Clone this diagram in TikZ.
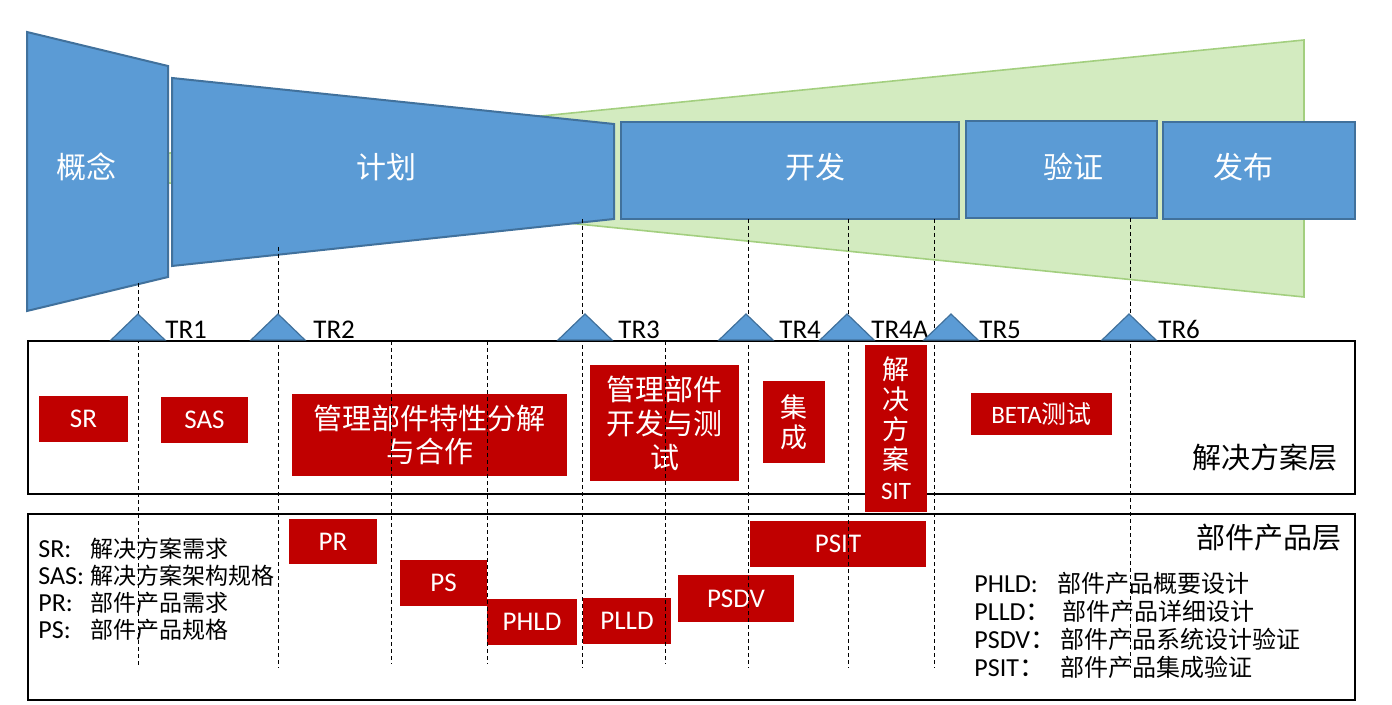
\documentclass[tikz,border=0pt]{standalone}
\usepackage{fontspec}
\setmainfont{Carlito}
\newfontfamily\zh{Noto Sans CJK SC}
\usetikzlibrary{positioning}
\definecolor{phasefill}{HTML}{5B9BD5}
\definecolor{phaseline}{HTML}{41719C}
\definecolor{conefill}{HTML}{D3EBC0}
\definecolor{coneline}{HTML}{A3CF7F}
\definecolor{taskred}{HTML}{C00000}
\tikzset{
  phase/.style={fill=phasefill, draw=phaseline, line width=1pt},
  phaselabel/.style={text=white, font=\zh\fontsize{15}{18}\selectfont},
  cone/.style={fill=conefill, draw=coneline, line width=0.8pt},
  layer/.style={draw=black, line width=1.1pt},
  layerlabel/.style={anchor=east, inner sep=0pt, font=\zh\fontsize{14.5}{17}\selectfont},
  task/.style={fill=taskred, text=white, inner sep=0pt, align=center},
  tasklat/.style={task, font=\fontsize{13.5}{16}\selectfont},
  taskzh/.style={task, font=\zh\fontsize{14.5}{16.5}\selectfont},
  guide/.style={dash pattern=on 2pt off 1.5pt, line width=0.5pt},
  trmark/.style={fill=phasefill, draw=phaseline, line width=0.6pt},
  trlabel/.style={anchor=base west, inner sep=0pt, font=\fontsize{13.5}{16}\selectfont},
  keylat/.style={anchor=base west, inner sep=0pt, font=\fontsize{13}{15}\selectfont},
  keyzh/.style={anchor=base west, inner sep=0pt, font=\zh\fontsize{11.5}{14}\selectfont},
  keyzhr/.style={keyzh, font=\zh\fontsize{12}{14}\selectfont},
}
% box from corner to corner, in pixels of the sheet
\newcommand{\phasebox}[5]{%
  \node[phase, inner sep=0pt, minimum width=(#4-#2)*0.5pt, minimum height=(#5-#3)*0.5pt]
    (#1) at ({(#2+#4)/2},{(#3+#5)/2}) {};}
\newcommand{\taskbox}[7]{%
  \node[#2, minimum width=(#5-#3)*0.5pt, minimum height=(#6-#4)*0.5pt]
    (#1) at ({(#3+#5)/2},{(#4+#6)/2}) {#7};}
\newcommand{\trmark}[4]{%
  \draw[trmark] (#2-27,340) -- (#2,314) -- (#2+27,340) -- cycle;
  \node[trlabel] (#1) at (#3,339) {#4};}

\begin{document}
\begin{tikzpicture}[x=0.5pt,y=-0.5pt]
  \useasboundingbox (0,0) rectangle (1392,705);
  % cone behind the phases
  \draw[cone] (100,160) -- (1304,40) -- (1304,297) -- (100,176) -- cycle;
  \draw[phase] (27,32) -- (168,66) -- (168,277) -- (27,311) -- cycle;
  \draw[phase] (172,78) -- (614,124) -- (614,219) -- (172,266) -- cycle;
  \phasebox{develop}{621}{122}{959}{219}
  \phasebox{verify}{966}{121}{1157}{218}
  \phasebox{release}{1163}{122}{1355}{219}
  \node[phaselabel] (concept) at (86,167) {概念};
  \node[phaselabel] (plan) at (386,167) {计划};
  \node[phaselabel] (developtext) at (815,167) {开发};
  \node[phaselabel] (verifytext) at (1073,167) {验证};
  \node[phaselabel] (releasetext) at (1243,167) {发布};
  % two layers
  \draw[layer] (28,341) rectangle (1355,494);
  \draw[layer] (28,514) rectangle (1355,700);
  \node[layerlabel] (sollayer) at (1338,458) {解决方案层};
  \node[layerlabel] (complayer) at (1342,538) {部件产品层};
  \taskbox{sr}{tasklat}{39}{396}{128}{442}{SR}
  \taskbox{sas}{tasklat}{161}{397}{248}{443}{SAS}
  \taskbox{split}{taskzh}{292}{394}{567}{476}{管理部件特性分解\\与合作}
  \taskbox{devtest}{taskzh, font=\zh\fontsize{14.5}{17}\selectfont}{590}{365}{739}{481}{管理部件\\开发与测\\试}
  \taskbox{integ}{taskzh, font=\zh\fontsize{13.5}{15}\selectfont}{763}{381}{825}{463}{集\\成}
  \taskbox{solsit}{taskzh, font=\zh\fontsize{13.5}{15}\selectfont}{865}{345}{927}{512}{解\\决\\方\\案\\{\rmfamily\fontsize{12.5}{15}\selectfont SIT}}
  \taskbox{beta}{task, font=\fontsize{12.5}{15}\selectfont}{971}{393}{1112}{435}{BETA{\zh 测试}}
  \taskbox{pr}{tasklat}{289}{519}{377}{564}{PR}
  \taskbox{ps}{tasklat}{400}{560}{487}{606}{PS}
  \taskbox{phld}{tasklat}{487}{599}{577}{645}{PHLD}
  \taskbox{plld}{tasklat}{583}{598}{671}{644}{PLLD}
  \taskbox{psdv}{tasklat}{678}{575}{794}{622}{PSDV}
  \taskbox{psit}{tasklat}{750}{521}{926}{567}{PSIT}
  % legends
  \foreach \y/\k/\d [count=\i] in {557/SR:/解决方案需求, 584/SAS:/解决方案架构规格,
      611/PR:/部件产品需求, 638/PS:/部件产品规格}{
    \node[keylat] (keya\i) at (38,\y) {\k};
    \node[keyzh] (desca\i) at (90,\y) {\d};
  }
  \foreach \y/\k/\x/\d [count=\i] in {592/PHLD:/1057/部件产品概要设计,
      620/PLLD{\zh ：}/1062/部件产品详细设计, 648/PSDV{\zh ：}/1060/部件产品系统设计验证,
      676/PSIT{\zh ：}/1060/部件产品集成验证}{
    \node[keylat] (keyb\i) at (974,\y) {\k};
    \node[keyzhr] (descb\i) at (\x,\y) {\d};
  }
  % review lines
  \foreach \x/\t/\b in {138/283/668, 278/247/668, 391/341/664, 487/341/664, 582/219/668,
      665/341/664, 748/219/668, 848/219/668, 934/219/668, 1130/218/668}
    \draw[guide] (\x,\t) -- (\x,\b);
  \trmark{tr1}{138}{165}{TR1}
  \trmark{tr2}{278}{313}{TR2}
  \trmark{tr3}{585}{618}{TR3}
  \trmark{tr4}{746}{779}{TR4}
  \trmark{tr4a}{847}{871}{TR4A}
  \trmark{tr5}{951}{979}{TR5}
  \trmark{tr6}{1129}{1158}{TR6}
\end{tikzpicture}
\end{document}
